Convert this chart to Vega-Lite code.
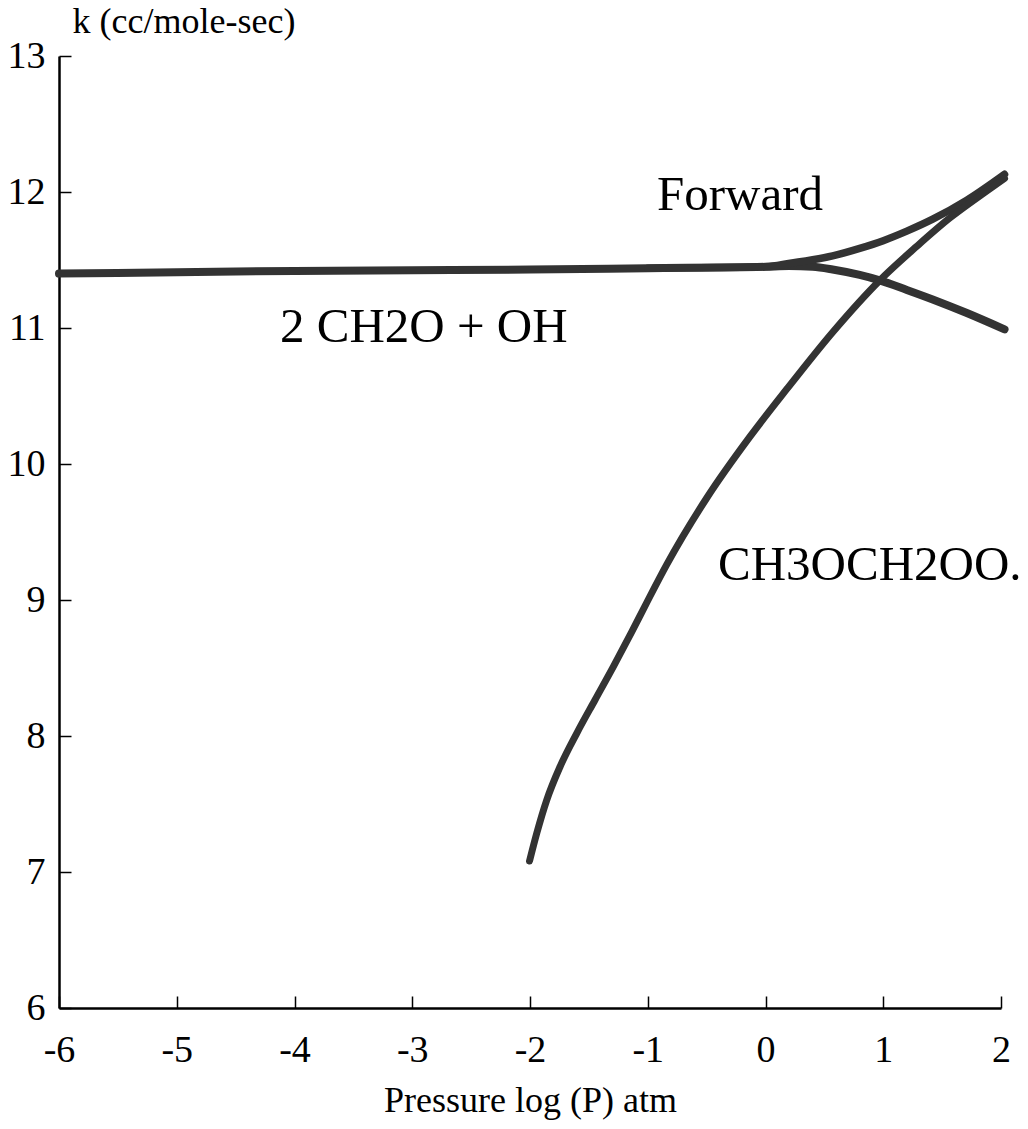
{
  "$schema": "https://vega.github.io/schema/vega-lite/v6.json",
  "width": 942,
  "height": 952,
  "autosize": {"type": "none"},
  "padding": {"left": 59, "top": 56, "right": 27, "bottom": 121},
  "background": "white",
  "config": {
    "view": {"stroke": null},
    "font": "Liberation Serif",
    "axis": {
      "domainColor": "black",
      "domainWidth": 2.5,
      "tickColor": "black",
      "tickWidth": 1.5,
      "tickSize": -12,
      "grid": false,
      "labelFont": "Liberation Serif",
      "labelColor": "black",
      "labelFontSize": 38,
      "labelExpr": "datum.value < 0 ? '-' + format(-datum.value, 'd') : format(datum.value, 'd')",
      "titleFont": "Liberation Serif",
      "titleColor": "black",
      "titleFontWeight": "normal"
    }
  },
  "datasets": {
    "curves": [
      {"series": "2 CH2O + OH", "p": -6.0, "k": 11.40},
      {"series": "2 CH2O + OH", "p": -5.0, "k": 11.41},
      {"series": "2 CH2O + OH", "p": -4.0, "k": 11.42},
      {"series": "2 CH2O + OH", "p": -3.0, "k": 11.425},
      {"series": "2 CH2O + OH", "p": -2.0, "k": 11.43},
      {"series": "2 CH2O + OH", "p": -1.0, "k": 11.44},
      {"series": "2 CH2O + OH", "p": 0.0, "k": 11.45},
      {"series": "2 CH2O + OH", "p": 0.2, "k": 11.455},
      {"series": "2 CH2O + OH", "p": 0.4, "k": 11.45},
      {"series": "2 CH2O + OH", "p": 0.57, "k": 11.43},
      {"series": "2 CH2O + OH", "p": 0.8, "k": 11.39},
      {"series": "2 CH2O + OH", "p": 0.97, "k": 11.35},
      {"series": "2 CH2O + OH", "p": 1.2, "k": 11.28},
      {"series": "2 CH2O + OH", "p": 1.42, "k": 11.21},
      {"series": "2 CH2O + OH", "p": 1.71, "k": 11.11},
      {"series": "2 CH2O + OH", "p": 2.03, "k": 10.99},
      {"series": "Forward", "p": -1.0, "k": 11.44},
      {"series": "Forward", "p": 0.0, "k": 11.45},
      {"series": "Forward", "p": 0.21, "k": 11.476},
      {"series": "Forward", "p": 0.57, "k": 11.53},
      {"series": "Forward", "p": 0.8, "k": 11.585},
      {"series": "Forward", "p": 1.0, "k": 11.642},
      {"series": "Forward", "p": 1.2, "k": 11.712},
      {"series": "Forward", "p": 1.42, "k": 11.80},
      {"series": "Forward", "p": 1.71, "k": 11.94},
      {"series": "Forward", "p": 2.03, "k": 12.13},
      {"series": "CH3OCH2OO.", "p": -2.004, "k": 7.081},
      {"series": "CH3OCH2OO.", "p": -1.943, "k": 7.284},
      {"series": "CH3OCH2OO.", "p": -1.858, "k": 7.529},
      {"series": "CH3OCH2OO.", "p": -1.745, "k": 7.774},
      {"series": "CH3OCH2OO.", "p": -1.603, "k": 8.02},
      {"series": "CH3OCH2OO.", "p": -1.448, "k": 8.265},
      {"series": "CH3OCH2OO.", "p": -1.292, "k": 8.51},
      {"series": "CH3OCH2OO.", "p": -1.136, "k": 8.765},
      {"series": "CH3OCH2OO.", "p": -1.009, "k": 8.98},
      {"series": "CH3OCH2OO.", "p": -0.839, "k": 9.26},
      {"series": "CH3OCH2OO.", "p": -0.499, "k": 9.75},
      {"series": "CH3OCH2OO.", "p": -0.132, "k": 10.201},
      {"series": "CH3OCH2OO.", "p": 0.18, "k": 10.55},
      {"series": "CH3OCH2OO.", "p": 0.576, "k": 10.975},
      {"series": "CH3OCH2OO.", "p": 0.97, "k": 11.35},
      {"series": "CH3OCH2OO.", "p": 1.284, "k": 11.60},
      {"series": "CH3OCH2OO.", "p": 1.567, "k": 11.81},
      {"series": "CH3OCH2OO.", "p": 1.85, "k": 11.99},
      {"series": "CH3OCH2OO.", "p": 2.03, "k": 12.10}
    ],
    "labels": [
      {"label": "Forward", "p": -0.921, "k": 11.87},
      {"label": "2 CH2O + OH", "p": -4.123, "k": 10.90},
      {"label": "CH3OCH2OO.", "p": -0.403, "k": 9.147}
    ]
  },
  "layer": [
    {
      "data": {"name": "curves"},
      "mark": {"type": "line", "interpolate": "monotone", "strokeCap": "round", "strokeJoin": "round", "clip": false},
      "encoding": {
        "x": {
          "field": "p", "type": "quantitative",
          "scale": {"domain": [-6, 2], "nice": false, "zero": false},
          "axis": {
            "values": [-6, -5, -4, -3, -2, -1, 0, 1, 2],
            "title": "Pressure log (P) atm",
            "titleFontSize": 36,
            "titlePadding": 14,
            "labelPadding": 35,
            "labelFlush": false
          }
        },
        "y": {
          "field": "k", "type": "quantitative",
          "scale": {"domain": [6, 13], "nice": false, "zero": false},
          "axis": {
            "values": [6, 7, 8, 9, 10, 11, 12, 13],
            "title": "k (cc/mole-sec)",
            "titleFontSize": 36,
            "titleAngle": 0,
            "titleAlign": "left",
            "titleBaseline": "alphabetic",
            "titleX": 13,
            "titleY": -24,
            "labelPadding": 26,
            "labelFlush": false
          }
        },
        "detail": {"field": "series", "type": "nominal"},
        "strokeWidth": {
          "field": "series", "type": "nominal",
          "scale": {"domain": ["2 CH2O + OH", "Forward", "CH3OCH2OO."], "range": [8, 7, 6]},
          "legend": null
        },
        "color": {"value": "#333333"}
      }
    },
    {
      "data": {"name": "labels"},
      "mark": {"type": "text", "align": "left", "baseline": "alphabetic", "font": "Liberation Serif", "fontSize": 49, "color": "black"},
      "encoding": {
        "x": {"field": "p", "type": "quantitative"},
        "y": {"field": "k", "type": "quantitative"},
        "text": {"field": "label"}
      }
    }
  ]
}
